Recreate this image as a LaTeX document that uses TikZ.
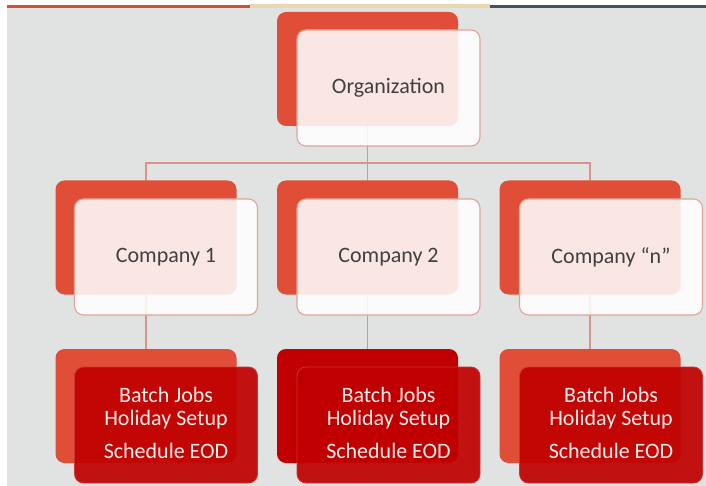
\documentclass[tikz,border=0pt]{standalone}
\usepackage{fontspec}
\setmainfont{Carlito}
\pgfdeclarelayer{bglayer}
\pgfdeclarelayer{linelayer}
\pgfsetlayers{bglayer,linelayer,main}
\definecolor{bggray}{HTML}{E1E3E2}
\definecolor{backred}{HTML}{E04E38}
\definecolor{darkred}{HTML}{C00000}
\definecolor{connc}{HTML}{D8938A}
\definecolor{frontline}{HTML}{E2A49A}
\definecolor{txtgray}{HTML}{404040}
\definecolor{lighttxt}{HTML}{F8ECEC}
\definecolor{stripa}{HTML}{C8553A}
\definecolor{stripb}{HTML}{E8D8B0}
\definecolor{stripc}{HTML}{405060}
\tikzset{
  backbox/.style={rectangle, rounded corners=9pt, fill=backred, minimum width=181pt, minimum height=114pt, inner sep=0pt},
  backdark/.style={backbox, fill=darkred},
  frontbox/.style={rectangle, rounded corners=9pt, draw=frontline, line width=1.1pt, fill=white, fill opacity=0.86, text opacity=1, minimum width=183pt, minimum height=116pt, inner sep=0pt},
  frontdark/.style={rectangle, rounded corners=9pt, draw=darkred!80!white, line width=0.8pt, fill=darkred, fill opacity=0.92, minimum width=183pt, minimum height=116pt, inner sep=0pt},
  boxtext/.style={font=\fontsize{22}{24}\selectfont, text=txtgray},
  listtext/.style={font=\fontsize{22}{24}\selectfont, text=lighttxt, anchor=base, inner sep=0pt},
  conn/.style={draw=connc, line width=1.4pt}
}
\begin{document}
\begin{tikzpicture}[x=1pt,y=-1pt]
\useasboundingbox (0,0) rectangle (706,486);
\begin{pgfonlayer}{bglayer}
\fill[white] (0,0) rectangle (706,486);
\fill[bggray] (7,8) rectangle (706,486);
\fill[stripa] (7,5) rectangle (250,8);
\fill[stripb] (250,4) rectangle (490,8);
\fill[stripc] (490,5) rectangle (706,8);
\end{pgfonlayer}

% Organization
\node[backbox] (oback) at (367.5,69) {};
\node[frontbox] (ofront) at (388.5,88) {};
\node[boxtext] (otext) at (388.5,88) {Organization};

% Companies
\node[backbox] (c1back) at (146,237.5) {};
\node[frontbox] (c1front) at (166,257) {};
\node[boxtext] (c1text) at (166,257) {Company 1};

\node[backbox] (c2back) at (367.5,237.5) {};
\node[frontbox] (c2front) at (388.5,257) {};
\node[boxtext] (c2text) at (388.5,257) {Company 2};

\node[backbox] (c3back) at (590,237.5) {};
\node[frontbox] (c3front) at (611,257) {};
\node[boxtext] (c3text) at (611,257) {Company “n”};

% Bottom row
\node[backbox] (b1back) at (146,406) {};
\node[frontdark] (b1front) at (166,425) {};
\node[listtext] (b1a) at (166,402) {Batch Jobs};
\node[listtext] (b1b) at (166,425) {Holiday Setup};
\node[listtext] (b1c) at (166,458) {Schedule EOD};

\node[backdark] (b2back) at (367.5,406) {};
\node[frontdark] (b2front) at (388.5,425) {};
\node[listtext] (b2a) at (388.5,402) {Batch Jobs};
\node[listtext] (b2b) at (388.5,425) {Holiday Setup};
\node[listtext] (b2c) at (388.5,458) {Schedule EOD};

\node[backbox] (b3back) at (590,406) {};
\node[frontdark] (b3front) at (611,425) {};
\node[listtext] (b3a) at (611,402) {Batch Jobs};
\node[listtext] (b3b) at (611,425) {Holiday Setup};
\node[listtext] (b3c) at (611,458) {Schedule EOD};

% Connectors
\coordinate (hub) at (367.5,163);
\begin{pgfonlayer}{linelayer}
\draw[conn] (oback.center) -- (hub);
\draw[conn] (hub) -| (c1back.center);
\draw[conn] (hub) -| (c3back.center);
\draw[conn] (hub) -- (c2back.center);
\draw[conn] (c1back.center) -- (b1back.center);
\draw[conn] (c2back.center) -- (b2back.center);
\draw[conn] (c3back.center) -- (b3back.center);
\end{pgfonlayer}
\end{tikzpicture}
\end{document}
